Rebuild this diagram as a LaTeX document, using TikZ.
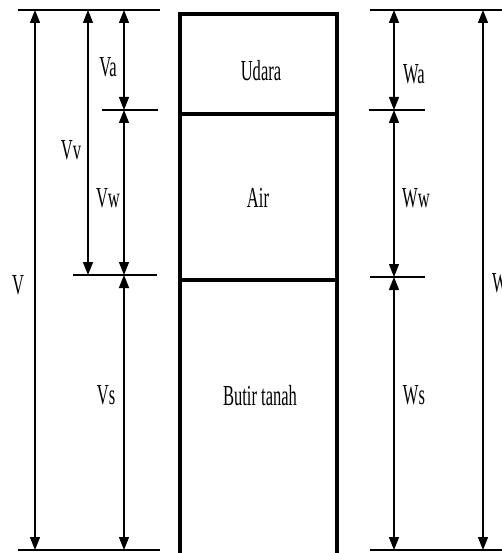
\documentclass[tikz,border=0pt]{standalone}
\usepackage{fontspec}
\setmainfont{Liberation Serif}
\usetikzlibrary{arrows.meta}
\begin{document}
\begin{tikzpicture}[x=1pt,y=-1pt,
  dim/.style={line width=1.2pt,{Triangle[length=13pt,width=10pt]}-{Triangle[length=13pt,width=10pt]}},
  refline/.style={line width=2.6pt},
  wall/.style={line width=3.6pt},
  lbl/.style={inner sep=0pt,font=\fontsize{29}{29}\selectfont,xscale=0.57}]
\useasboundingbox (0,0) rectangle (502,553);
% left reference lines
\coordinate (LT1) at (18,10); \coordinate (LT2) at (160,10);
\coordinate (LA1) at (102,110); \coordinate (LA2) at (158,110);
\coordinate (LW1) at (73,275); \coordinate (LW2) at (157,275);
\coordinate (LB1) at (18,550); \coordinate (LB2) at (160,550);
\draw[refline] (LT1) -- (LT2);
\draw[refline] (LA1) -- (LA2);
\draw[refline] (LW1) -- (LW2);
\draw[refline] (LB1) -- (LB2);
% left dimension arrows
\coordinate (Vt) at (35,10); \coordinate (Vb) at (35,550);
\coordinate (Vvt) at (88,10); \coordinate (Vvb) at (88,275);
\coordinate (Vat) at (124,10); \coordinate (Vab) at (124,110);
\coordinate (Vwb) at (124,275); \coordinate (Vsb) at (124,550);
\draw[dim] (Vt) -- (Vb);
\draw[dim] (Vvt) -- (Vvb);
\draw[dim] (Vat) -- (Vab);
\draw[dim] (Vab) -- (Vwb);
\draw[dim] (Vwb) -- (Vsb);
\node[lbl] (lV) at (18,285) {V};
\node[lbl] (lVv) at (71,150) {Vv};
\node[lbl] (lVa) at (108,67) {Va};
\node[lbl] (lVw) at (108,198) {Vw};
\node[lbl] (lVs) at (106,395) {Vs};
% container
\coordinate (BTL) at (180,14); \coordinate (BTR) at (337,14);
\coordinate (BBL) at (180,553); \coordinate (BBR) at (337,553);
\coordinate (BAL) at (180,114); \coordinate (BAR) at (337,114);
\coordinate (BWL) at (180,280); \coordinate (BWR) at (337,280);
\draw[wall] (BBL) -- (BTL) -- (BTR) -- (BBR);
\draw[wall] (BAL) -- (BAR);
\draw[wall] (BWL) -- (BWR);
\node[lbl] (udara) at (261,71) {Udara};
\node[lbl] (air) at (258,198) {Air};
\node[lbl] (butir) at (260,396) {Butir tanah};
% right reference lines
\coordinate (RT1) at (370,10); \coordinate (RT2) at (502,10);
\coordinate (RA1) at (369,110); \coordinate (RA2) at (425,110);
\coordinate (RW1) at (370,277); \coordinate (RW2) at (425,277);
\coordinate (RB1) at (370,550); \coordinate (RB2) at (502,550);
\draw[refline] (RT1) -- (RT2);
\draw[refline] (RA1) -- (RA2);
\draw[refline] (RW1) -- (RW2);
\draw[refline] (RB1) -- (RB2);
\coordinate (Wat) at (394,10); \coordinate (Wab) at (394,110);
\coordinate (Wwb) at (394,277); \coordinate (Wsb) at (394,550);
\coordinate (Wt) at (483,10); \coordinate (Wb) at (483,550);
\draw[dim] (Wat) -- (Wab);
\draw[dim] (Wab) -- (Wwb);
\draw[dim] (Wwb) -- (Wsb);
\draw[dim] (Wt) -- (Wb);
\node[lbl] (lWa) at (414,74) {Wa};
\node[lbl] (lWw) at (416,198) {Ww};
\node[lbl] (lWs) at (414,395) {Ws};
\node[lbl,anchor=west] (lW) at (492,283) {W};
\end{tikzpicture}
\end{document}
